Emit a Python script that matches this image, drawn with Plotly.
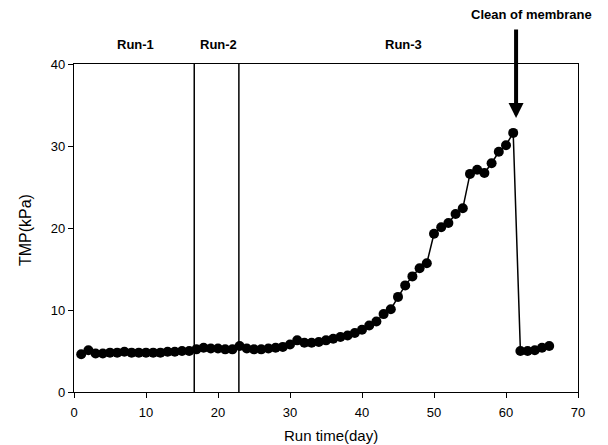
import plotly.graph_objects as go

days = list(range(1, 62)) + [62, 63, 64, 65, 66]
tmp = [4.6, 5.1, 4.7, 4.7, 4.8, 4.8, 4.9, 4.8, 4.8, 4.8,
       4.8, 4.8, 4.9, 4.9, 5.0, 5.0, 5.2, 5.4, 5.3, 5.3,
       5.2, 5.2, 5.6, 5.3, 5.2, 5.2, 5.3, 5.4, 5.5, 5.8,
       6.3, 6.0, 6.0, 6.1, 6.3, 6.5, 6.7, 6.9, 7.2, 7.6,
       8.1, 8.6, 9.5, 10.1, 11.6, 13.0, 14.1, 15.1, 15.7, 19.3,
       20.1, 20.6, 21.7, 22.4, 26.6, 27.1, 26.7, 27.9, 29.3, 30.1,
       31.6, 5.0, 5.0, 5.1, 5.4, 5.6]

run_boundaries = [16.7, 22.9]
run_labels = ["Run-1", "Run-2", "Run-3"]
run_label_x = [8.5, 20.0, 45.7]
x_ticks = [0, 10, 20, 30, 40, 50, 60, 70]
y_ticks = [0, 10, 20, 30, 40]

FONT = "Liberation Sans, Arial, sans-serif"

fig = go.Figure()
fig.add_trace(go.Scatter(
    x=days, y=tmp, mode="lines+markers",
    line=dict(color="black", width=1.5),
    marker=dict(color="black", size=10),
    showlegend=False, cliponaxis=False,
))

for xb in run_boundaries:
    fig.add_shape(type="line", xref="x", yref="y", x0=xb, x1=xb, y0=0, y1=40,
                  line=dict(color="black", width=1.5))

for lab, lx in zip(run_labels, run_label_x):
    fig.add_annotation(x=lx, y=1.058, xref="x", yref="paper", yanchor="middle",
                       text="<b>" + lab + "</b>", showarrow=False,
                       font=dict(family=FONT, size=13, color="black"))

fig.add_annotation(x=63.6, y=1.152, xref="x", yref="paper", yanchor="middle",
                   text="<b>Clean of membrane</b>", showarrow=False,
                   font=dict(family=FONT, size=13, color="black"))
fig.add_annotation(x=61.4, y=33.4, xref="x", yref="y", text="", showarrow=True,
                   ax=0, ay=-90, axref="pixel", ayref="pixel",
                   arrowhead=2, arrowsize=0.75, arrowwidth=4, arrowcolor="black")

# axis titles
fig.add_annotation(x=35.7, y=-0.133, xref="x", yref="paper", yanchor="middle",
                   text="Run time(day)", showarrow=False,
                   font=dict(family=FONT, size=15, color="black"))
fig.add_annotation(x=-0.095, y=0.494, xref="paper", yref="paper", xanchor="center",
                   yanchor="middle", textangle=-90, text="TMP(kPa)", showarrow=False,
                   font=dict(family=FONT, size=16, color="black"))

fig.update_layout(
    width=600, height=437,
    margin=dict(l=66, r=30, t=56, b=53),
    plot_bgcolor="white", paper_bgcolor="white",
    font=dict(family=FONT, size=13, color="black"),
)
fig.update_xaxes(range=[0, 70], tickvals=x_ticks, showgrid=False, zeroline=False,
                 showline=True, linecolor="black", linewidth=1.2, mirror=True,
                 ticks="outside", ticklen=5, tickcolor="black", ticklabelstandoff=3,
                 automargin=False)
fig.update_yaxes(range=[0, 40], tickvals=y_ticks, showgrid=False, zeroline=False,
                 showline=True, linecolor="black", linewidth=1.2, mirror=True,
                 ticks="outside", ticklen=5, tickcolor="black", automargin=False)

fig.write_html("out.html")
